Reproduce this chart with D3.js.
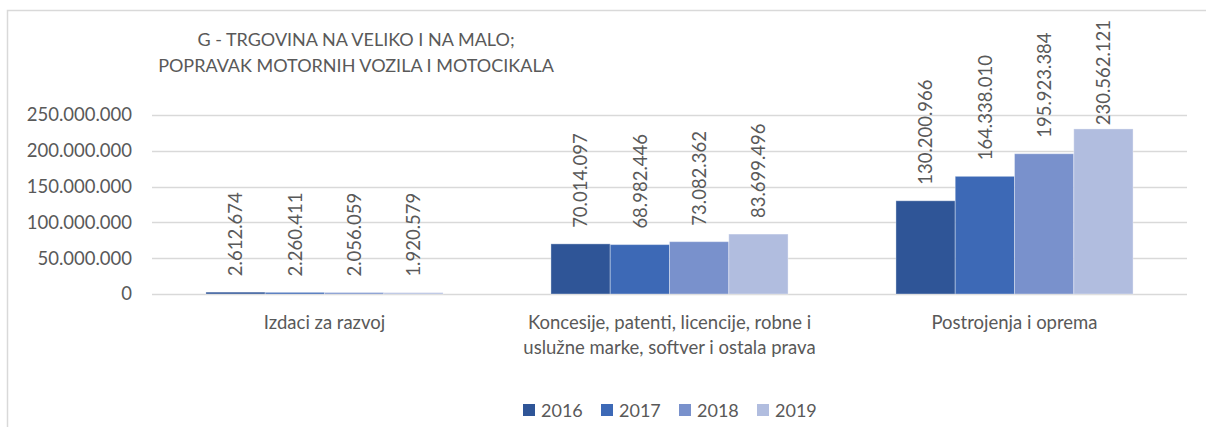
<!DOCTYPE html>
<html>
<head>
<meta charset="utf-8">
<script src="https://cdn.jsdelivr.net/npm/d3@7"></script>
<style>
	body { margin: 0; background: #fff; }
	svg text { font-family: Lato, "Open Sans", sans-serif; fill: #595959; }
</style>
</head>
<body>
<div id="chart"></div>
<script>
// chart data
const categories = ["Izdaci za razvoj", "Koncesije, patenti, licencije, robne i uslužne marke, softver i ostala prava", "Postrojenja i oprema"];
const categoryLines = [["Izdaci za razvoj"], ["Koncesije, patenti, licencije, robne i", "uslužne marke, softver i ostala prava"], ["Postrojenja i oprema"]];
const years = ["2016", "2017", "2018", "2019"];
const values2016 = [2612674, 70014097, 130200966];
const values2017 = [2260411, 68982446, 164338010];
const values2018 = [2056059, 73082362, 195923384];
const values2019 = [1920579, 83699496, 230562121];
const yTicks = [0, 50000000, 100000000, 150000000, 200000000, 250000000];
const titleLines = ["G - TRGOVINA NA VELIKO I NA MALO;", "POPRAVAK MOTORNIH VOZILA I MOTOCIKALA"];
const colors = ["#2f5597", "#3d69b6", "#7991cc", "#b1bddf"];

const series = [values2016, values2017, values2018, values2019];
const data = [];
categories.forEach(function(c, i) {
	years.forEach(function(y, j) {
		data.push({cat: c, year: y, value: series[j][i]});
	});
});

const W = 1206, H = 427;
const svg = d3.select("#chart").append("svg").attr("width", W).attr("height", H);

// chart frame
svg.append("path")
	.attr("d", "M7.5," + H + "V10.5H" + W)
	.attr("fill", "none")
	.attr("stroke", "#d9d9d9")
	.attr("stroke-width", 1.5);

const plotLeft = 152, plotRight = 1187, plotTop = 115, plotBottom = 294;

const x = d3.scaleBand().domain(categories).range([plotLeft, plotRight]).paddingInner(0).paddingOuter(0);
const x1 = d3.scaleBand().domain(years).range([0, x.bandwidth()]).paddingInner(0).paddingOuter(0.91);
const y = d3.scaleLinear().domain([0, 250000000]).range([plotBottom, plotTop]);

const fmt = function(v) { return d3.format(",")(v).replace(/,/g, "."); };

// gridlines
svg.append("g").selectAll("line")
	.data(yTicks)
	.enter().append("line")
	.attr("x1", plotLeft).attr("x2", plotRight)
	.attr("y1", function(d) { return Math.round(y(d)) + 0.5; })
	.attr("y2", function(d) { return Math.round(y(d)) + 0.5; })
	.attr("stroke", "#d9d9d9")
	.attr("stroke-width", 1.5);

// y axis labels
const yAxis = svg.append("g")
	.attr("transform", "translate(" + (plotLeft - 20) + ",0)")
	.call(d3.axisLeft(y).tickValues(yTicks).tickFormat(fmt).tickSize(0).tickPadding(0));
yAxis.select(".domain").remove();
yAxis.selectAll("text")
	.style("font-size", "18.5px")
	.style("font-family", "Lato, 'Open Sans', sans-serif")
	.attr("fill", "#595959");

// bars
const bars = svg.append("g");
bars.selectAll("rect")
	.data(data)
	.enter().append("rect")
	.attr("x", function(d) { return x(d.cat) + x1(d.year); })
	.attr("y", function(d) { return y(d.value); })
	.attr("width", x1.bandwidth())
	.attr("height", function(d) { return plotBottom - y(d.value); })
	.attr("fill", function(d) { return colors[years.indexOf(d.year)]; })
	.attr("stroke", "#ffffff")
	.attr("stroke-opacity", 0.35)
	.attr("stroke-width", 1);

// value labels, rotated; pushed down if they would leave the chart area
bars.selectAll("text")
	.data(data)
	.enter().append("text")
	.attr("dy", "0.36em")
	.style("font-size", "18.5px")
	.text(function(d) { return fmt(d.value); })
	.attr("transform", function(d) {
		const cx = x(d.cat) + x1(d.year) + x1.bandwidth() / 2;
		const len = this.getComputedTextLength();
		let base = y(d.value) - 16;
		if (base - len < 20) base = 20 + len;
		return "translate(" + cx + "," + base + ") rotate(-90)";
	});

// category labels
const catG = svg.append("g");
categories.forEach(function(c, i) {
	const t = catG.append("text")
		.attr("x", x(c) + x.bandwidth() / 2)
		.attr("y", 329)
		.attr("text-anchor", "middle")
		.style("font-size", "18.5px");
	categoryLines[i].forEach(function(line, k) {
		t.append("tspan")
			.attr("x", x(c) + x.bandwidth() / 2)
			.attr("dy", k === 0 ? 0 : 25)
			.text(line);
	});
});

// title
const title = svg.append("text")
	.attr("text-anchor", "middle")
	.style("font-size", "18px");
titleLines.forEach(function(line, k) {
	title.append("tspan")
		.attr("x", 356)
		.attr("y", 46 + k * 26)
		.text(line);
});

// legend
const legend = svg.append("g").attr("transform", "translate(523,0)");
years.forEach(function(yr, i) {
	const g = legend.append("g").attr("transform", "translate(" + (i * 78) + ",0)");
	g.append("rect")
		.attr("x", 0).attr("y", 404)
		.attr("width", 12).attr("height", 12)
		.attr("fill", colors[i]);
	g.append("text")
		.attr("x", 18).attr("y", 417)
		.style("font-size", "18px")
		.text(yr);
});
</script>
</body>
</html>
